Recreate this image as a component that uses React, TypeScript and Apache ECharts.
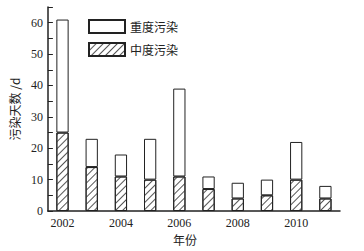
import React, { useEffect, useRef } from "react";
import * as echarts from "echarts";

const years = ["2002", "2003", "2004", "2005", "2006", "2007", "2008", "2009", "2010", "2011"];
const moderate = [25, 14, 11, 10, 11, 7, 4, 5, 10, 4];
const severe = [36, 9, 7, 13, 28, 4, 5, 5, 12, 4];

const serif = "Times New Roman, Liberation Serif, serif";
const cjk = "Noto Sans CJK SC, sans-serif";

export default function App() {
  const ref = useRef<HTMLDivElement>(null);
  useEffect(() => {
    if (!ref.current) return;
    const chart = echarts.init(ref.current, undefined, { renderer: "svg" });
    const hatch = {
      symbol: "rect",
      color: "#555",
      backgroundColor: "#fff",
      dashArrayX: [1, 0],
      dashArrayY: [1, 4],
      rotation: -Math.PI / 4,
      symbolSize: 1,
    };
    chart.setOption({
      animation: false,
      grid: { left: 39, right: 24, top: 7, bottom: 40 },
      legend: {
        orient: "vertical",
        left: 83,
        top: 14,
        icon: "rect",
        itemWidth: 36,
        itemHeight: 13,
        itemGap: 8,
        textStyle: { fontFamily: cjk, fontSize: 12, color: "#222" },
        data: ["重度污染", "中度污染"],
      },
      xAxis: {
        type: "category",
        data: years,
        name: "年份",
        nameLocation: "middle",
        nameGap: 20,
        nameTextStyle: { fontFamily: cjk, fontSize: 12, color: "#222", padding: [0, 18, 0, 0] },
        axisLine: { lineStyle: { color: "#222", width: 1.5 } },
        axisTick: { show: false },
        axisLabel: { interval: 1, fontFamily: serif, fontSize: 12, color: "#222", margin: 6 },
      },
      yAxis: {
        type: "value",
        min: 0,
        max: 65,
        interval: 5,
        name: "污染天数 /d",
        nameLocation: "middle",
        nameGap: 20,
        nameTextStyle: { fontFamily: cjk, fontSize: 12, color: "#222" },
        axisLine: { show: true, lineStyle: { color: "#222", width: 1.5 } },
        axisTick: { show: true, inside: true, length: 5, lineStyle: { color: "#222" } },
        splitLine: { show: false },
        axisLabel: {
          fontFamily: serif,
          fontSize: 12,
          color: "#222",
          margin: 5,
          formatter: (v: number) => (v % 10 === 0 ? String(v) : ""),
        },
      },
      series: [
        {
          name: "中度污染",
          type: "bar",
          stack: "total",
          barWidth: "42%",
          data: moderate,
          itemStyle: { color: "#fff", borderColor: "#222", borderWidth: 1, decal: hatch },
        },
        {
          name: "重度污染",
          type: "bar",
          stack: "total",
          barWidth: "42%",
          data: severe,
          itemStyle: { color: "#fff", borderColor: "#222", borderWidth: 1 },
        },
      ],
    });
    return () => chart.dispose();
  }, []);
  return <div ref={ref} style={{ width: 364, height: 251, position: "absolute", left: 0, top: 0 }} />;
}
